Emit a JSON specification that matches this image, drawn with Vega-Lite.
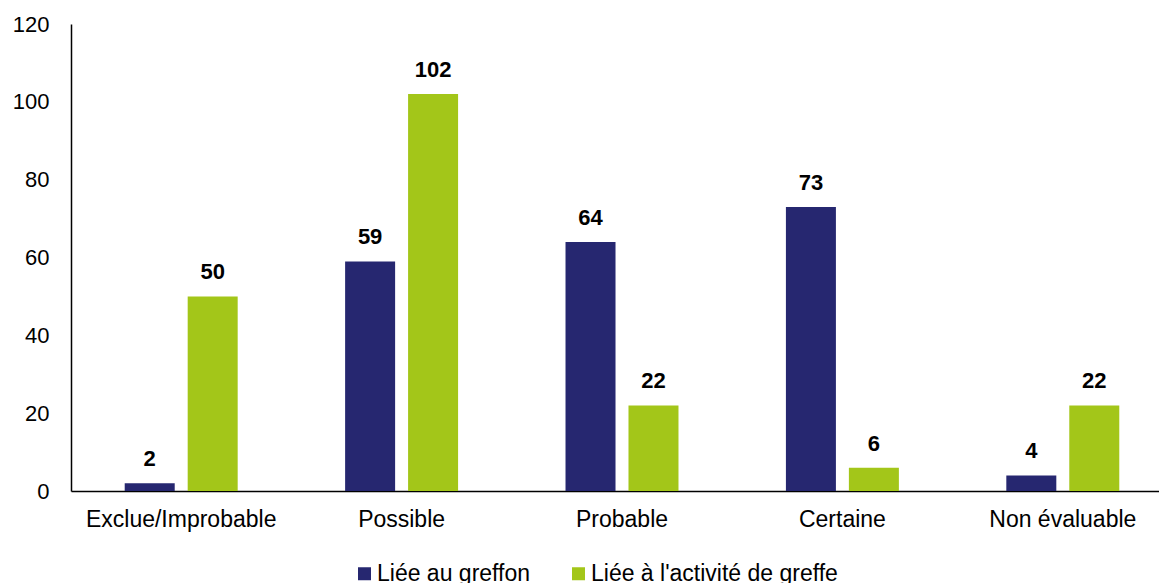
{
  "$schema": "https://vega.github.io/schema/vega-lite/v6.json",
  "width": 1088,
  "height": 467,
  "autosize": "none",
  "padding": {"left": 71, "top": 24, "right": 0, "bottom": 92},
  "background": "white",
  "config": {"view": {"stroke": null}, "font": "Liberation Sans"},
  "data": {
    "values": [
      {"imputabilite": "Exclue/Improbable", "lien": "Liée au greffon", "cas": 2},
      {"imputabilite": "Exclue/Improbable", "lien": "Liée à l'activité de greffe", "cas": 50},
      {"imputabilite": "Possible", "lien": "Liée au greffon", "cas": 59},
      {"imputabilite": "Possible", "lien": "Liée à l'activité de greffe", "cas": 102},
      {"imputabilite": "Probable", "lien": "Liée au greffon", "cas": 64},
      {"imputabilite": "Probable", "lien": "Liée à l'activité de greffe", "cas": 22},
      {"imputabilite": "Certaine", "lien": "Liée au greffon", "cas": 73},
      {"imputabilite": "Certaine", "lien": "Liée à l'activité de greffe", "cas": 6},
      {"imputabilite": "Non évaluable", "lien": "Liée au greffon", "cas": 4},
      {"imputabilite": "Non évaluable", "lien": "Liée à l'activité de greffe", "cas": 22}
    ]
  },
  "encoding": {
    "x": {
      "field": "imputabilite",
      "type": "nominal",
      "sort": ["Exclue/Improbable", "Possible", "Probable", "Certaine", "Non évaluable"],
      "scale": {"paddingInner": 0, "paddingOuter": 0, "range": [0, 1102]},
      "axis": {
        "title": null,
        "labelAngle": 0,
        "labelFontSize": 23,
        "labelColor": "black",
        "labelLimit": 400,
        "ticks": false,
        "domainColor": "black",
        "domainWidth": 1.5,
        "labelPadding": 17
      }
    },
    "xOffset": {
      "field": "lien",
      "type": "nominal",
      "sort": ["Liée au greffon", "Liée à l'activité de greffe"],
      "scale": {"paddingInner": 0.206, "paddingOuter": 0.853}
    },
    "y": {
      "field": "cas",
      "type": "quantitative",
      "scale": {"domain": [0, 120], "nice": false},
      "axis": {
        "title": null,
        "values": [0, 20, 40, 60, 80, 100, 120],
        "grid": false,
        "ticks": false,
        "domainColor": "black",
        "domainWidth": 1.5,
        "labelFontSize": 22,
        "labelColor": "black",
        "labelPadding": 22
      }
    }
  },
  "layer": [
    {
      "mark": {"type": "bar"},
      "encoding": {
        "color": {
          "field": "lien",
          "type": "nominal",
          "sort": ["Liée au greffon", "Liée à l'activité de greffe"],
          "scale": {
            "domain": ["Liée au greffon", "Liée à l'activité de greffe"],
            "range": ["#262770", "#A3C619"]
          },
          "legend": {
            "title": null,
            "orient": "none",
            "direction": "horizontal",
            "legendX": 282,
            "legendY": 538,
            "symbolType": "square",
            "symbolSize": 169,
            "symbolStrokeWidth": 0,
            "symbolOpacity": 1,
            "labelFontSize": 23,
            "labelColor": "black",
            "labelOffset": 1,
            "columnPadding": 36,
            "labelLimit": 400
          }
        }
      }
    },
    {
      "mark": {"type": "text", "fontWeight": "bold", "fontSize": 22, "dy": -17, "baseline": "alphabetic", "color": "black"},
      "encoding": {"text": {"field": "cas", "type": "quantitative"}}
    }
  ]
}
